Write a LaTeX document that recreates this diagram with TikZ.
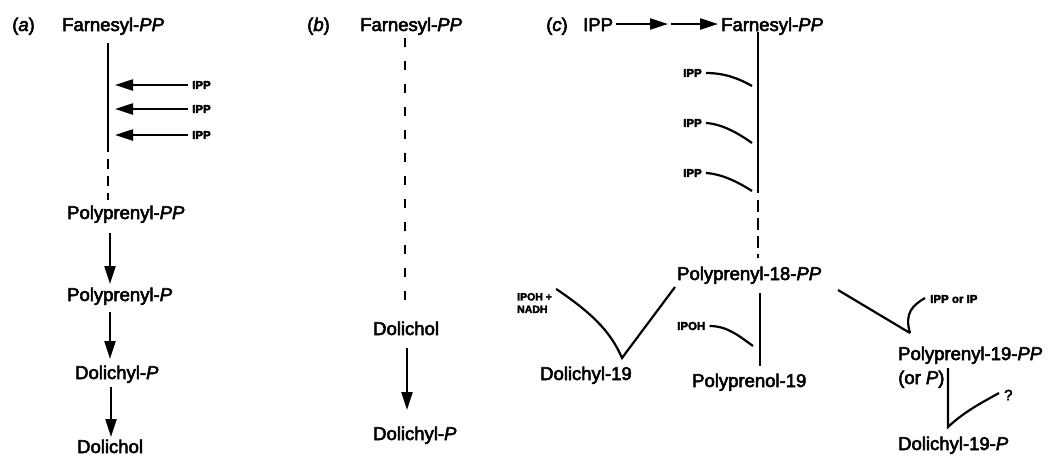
\documentclass[tikz,border=0pt]{standalone}
\usepackage{fontspec}
\setmainfont{Liberation Sans}[FakeBold=3]
\usetikzlibrary{arrows.meta}
\begin{document}
\begin{tikzpicture}[x=1pt,y=-1pt,
  lbl/.style={anchor=base west,inner sep=0pt,font=\fontsize{18.5}{20}\selectfont},
  small/.style={anchor=west,inner sep=0pt,font=\bfseries\fontsize{11.5}{12}\selectfont},
  ln/.style={line width=2.2pt},
  arr/.style={ln,-{Triangle[length=18pt,width=11pt]}},
  dsha/.style={ln,dash pattern=on 10pt off 7pt},
  dshb/.style={ln,dash pattern=on 9pt off 14pt},
  dshc/.style={ln,dash pattern=on 12pt off 6pt}]
\useasboundingbox (0,0) rectangle (1052,456);
% ---------- panel (a)
\node[lbl] (la) at (12,31) {(\textit{a})};
\node[lbl] (fa) at (62,31) {Farnesyl-\textit{PP}};
\node[lbl] (ppa) at (67,219) {Polyprenyl-\textit{PP}};
\node[lbl] (p1a) at (67,301) {Polyprenyl-\textit{P}};
\node[lbl] (dpa) at (75,379) {Dolichyl-\textit{P}};
\node[lbl] (dla) at (77,453) {Dolichol};
\coordinate (a1) at (108,43);
\coordinate (a2) at (108,142);
\coordinate (a3) at (108,200);
\draw[ln] (a1) -- (a2);
\draw[dsha] (a2) -- (a3);
\foreach \i/\y in {1/85,2/109,3/135}{
  \node[small] (ia\i) at (192,\y) {IPP};
  \coordinate (ta\i) at (115,\y);
  \draw[arr] ([xshift=-4pt]ia\i.west) -- (ta\i);
}
\coordinate (a4) at (110,233);
\coordinate (a5) at (110,284);
\coordinate (a6) at (110,312);
\coordinate (a7) at (110,359);
\coordinate (a8) at (111,387);
\coordinate (a9) at (111,437);
\draw[arr] (a4) -- (a5);
\draw[arr] (a6) -- (a7);
\draw[arr] (a8) -- (a9);
% ---------- panel (b)
\node[lbl] (lb) at (307,31) {(\textit{b})};
\node[lbl] (fb) at (360,31) {Farnesyl-\textit{PP}};
\node[lbl] (dlb) at (373,335) {Dolichol};
\node[lbl] (dpb) at (373,440) {Dolichyl-\textit{P}};
\coordinate (b1) at (405,38);
\coordinate (b2) at (405,308);
\draw[dshb] (b1) -- (b2);
\coordinate (b3) at (407,348);
\coordinate (b4) at (407,410);
\draw[arr] (b3) -- (b4);
% ---------- panel (c)
\node[lbl] (lc) at (546,31) {(\textit{c})};
\node[lbl] (ipc) at (583,31) {IPP};
\node[lbl] (fc) at (721,31) {Farnesyl-\textit{PP}};
\coordinate (cm) at (668,24);
\draw[arr] ([xshift=3pt,yshift=7pt]ipc.base east) -- (cm);
\draw[arr] ([xshift=3pt]cm) -- ([xshift=-3pt,yshift=7pt]fc.base west);
\coordinate (c1) at (758,32);
\coordinate (c2) at (758,193);
\coordinate (c3) at (758,200);
\coordinate (c4) at (758,258);
\draw[ln] (c1) -- (c2);
\draw[dshc] (c3) -- (c4);
\node[small] (ic1) at (683,73) {IPP};
\node[small] (ic2) at (683,123) {IPP};
\node[small] (ic3) at (683,173) {IPP};
\coordinate (e1) at (752,86);
\coordinate (e2) at (752,143);
\coordinate (e3) at (752,191);
\draw[ln] ([xshift=4pt]ic1.east) .. controls +(18,0) and +(-14,-8) .. (e1);
\draw[ln] ([xshift=4pt]ic2.east) .. controls +(16,1) and +(-14,-10) .. (e2);
\draw[ln] ([xshift=4pt]ic3.east) .. controls +(16,1) and +(-14,-9) .. (e3);
\node[lbl] (p18) at (677,280) {Polyprenyl-18-\textit{PP}};
\node[lbl] (p19) at (692,387) {Polyprenol-19};
\node[lbl] (d19) at (540,380) {Dolichyl-19};
\node[lbl] (pp19) at (898,360) {Polyprenyl-19-\textit{PP}};
\node[lbl] (orp) at (898,384) {(or \textit{P})};
\node[lbl] (dp19) at (898,450) {Dolichyl-19-\textit{P}};
% polyprenol branch
\coordinate (g1) at (760,293);
\coordinate (g2) at (760,366);
\draw[ln] (g1) -- (g2);
\node[small] (ipoh) at (677,326) {IPOH};
\coordinate (g3) at (753,346);
\draw[ln] ([xshift=4pt]ipoh.east) .. controls +(18,0) and +(-14,-10) .. (g3);
% dolichyl branch
\node[small,align=left,anchor=west,font=\bfseries\fontsize{10.5}{12.5}\selectfont] (ipn) at (517,303) {IPOH +\\NADH};
\coordinate (v1) at (622,358);
\coordinate (v2) at (675,287);
\draw[ln] ([xshift=4pt,yshift=4pt]ipn.north east) .. controls (590,312) and (610,330) .. (v1) -- (v2);
% polyprenyl-19 branch
\coordinate (h1) at (838,290);
\coordinate (h2) at (910,333);
\draw[ln] (h1) -- (h2);
\node[small] (ippor) at (930,299) {IPP or IP};
\draw[ln] (h2) .. controls (904,313) and (913,305) .. ([xshift=-5pt,yshift=1pt]ippor.west);
\coordinate (k1) at (948,368);
\coordinate (k2) at (948,427);
\node[anchor=west,inner sep=0pt,font=\fontsize{15}{16}\selectfont] (q) at (1004,395) {?};
\draw[ln] (k1) -- (k2) .. controls (965,411) and (983,402) .. ([xshift=-5pt,yshift=2pt]q.west);
\end{tikzpicture}
\end{document}
